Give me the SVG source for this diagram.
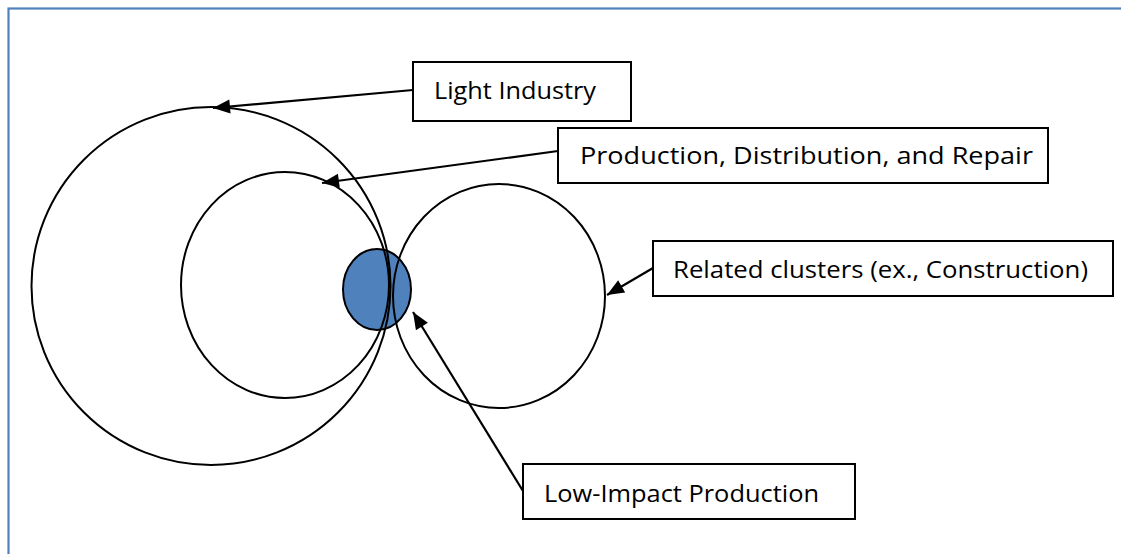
<svg xmlns="http://www.w3.org/2000/svg" width="1121" height="554" viewBox="0 0 1121 554">
  <style>
    .ring { fill: none; stroke: #000; stroke-width: 2; }
    .box { fill: #fff; stroke: #000; stroke-width: 2; }
    .lbl { font-family: "Open Sans", "Noto Sans", sans-serif; font-size: 23px; fill: #000; }
    .conn { stroke: #000; stroke-width: 2.2; fill: none; marker-end: url(#head); }
  </style>
  <defs>
    <marker id="head" markerUnits="userSpaceOnUse" markerWidth="20" markerHeight="16" refX="17" refY="7" orient="auto" overflow="visible">
      <path d="M0,0 L17,7 L0,14 z" fill="#000"/>
    </marker>
  </defs>

  <rect width="1121" height="554" fill="#fff"/>
  <!-- outer frame -->
  <rect x="8.5" y="8.5" width="1200" height="600" fill="none" stroke="#4F81BD" stroke-width="2.2"/>

  <!-- filled core first so the ring outlines pass over it -->
  <g id="low-impact-core">
    <ellipse cx="377" cy="289.5" rx="34" ry="40.5" fill="#4F81BD" stroke="#000" stroke-width="2"/>
  </g>
  <g id="light-industry-ring">
    <ellipse class="ring" cx="211" cy="286" rx="179.5" ry="179"/>
  </g>
  <g id="pdr-ring">
    <ellipse class="ring" cx="285" cy="285" rx="104" ry="113"/>
  </g>
  <g id="related-ring">
    <ellipse class="ring" cx="499" cy="296" rx="106" ry="112"/>
  </g>

  <g id="connectors">
    <line class="conn" x1="413" y1="90" x2="213" y2="108"/>
    <line class="conn" x1="558" y1="151" x2="322" y2="183"/>
    <line class="conn" x1="653" y1="268" x2="607" y2="295"/>
    <line class="conn" x1="523" y1="491" x2="413" y2="312"/>
  </g>

  <g id="light-industry-label">
    <rect class="box" x="413" y="62" width="218" height="59"/>
    <text class="lbl" x="434" y="99" textLength="162" lengthAdjust="spacingAndGlyphs">Light Industry</text>
  </g>
  <g id="pdr-label">
    <rect class="box" x="558" y="128" width="490" height="55"/>
    <text class="lbl" x="580" y="164" textLength="453" lengthAdjust="spacingAndGlyphs">Production, Distribution, and Repair</text>
  </g>
  <g id="related-label">
    <rect class="box" x="653" y="241" width="460" height="55"/>
    <text class="lbl" x="673" y="278" textLength="415" lengthAdjust="spacingAndGlyphs">Related clusters (ex., Construction)</text>
  </g>
  <g id="low-impact-label">
    <rect class="box" x="523" y="464" width="332" height="55"/>
    <text class="lbl" x="544" y="502" textLength="275" lengthAdjust="spacingAndGlyphs">Low-Impact Production</text>
  </g>
</svg>
